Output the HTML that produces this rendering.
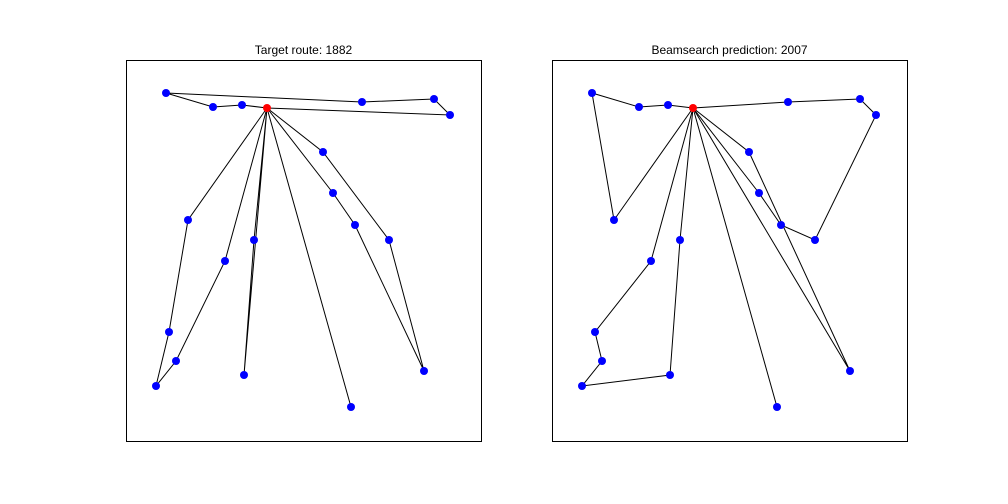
<!DOCTYPE html>
<html><head><meta charset="utf-8"><style>
body{margin:0;background:#fff}
svg{display:block;font-family:"Liberation Sans","DejaVu Sans",sans-serif}
</style></head><body>
<svg id="fig" width="1008" height="504" xmlns="http://www.w3.org/2000/svg"></svg>
<script>
const nodeX=[141,40,87,116,236,308,324,197,207,62,229,263,128,99,43,50,30,118,298,225];
const nodeY=[48,33,47,45,42,39,55,92,133,160,165,180,180,201,272,301,326,315,311,347];
const targetRoutes=[[0,3,2,1,4,5,6,0],[0,7,11,18,10,8,0],[0,19,0],[0,12,17,0],[0,13,15,16,14,9,0]];
const predRoutes=[[0,3,2,1,9,0],[0,4,5,6,11,10,8,0],[0,7,18,0],[0,19,0],[0,12,17,16,15,14,13,0]];
const titles=["Target route: 1882","Beamsearch prediction: 2007"];
const NS="http://www.w3.org/2000/svg";
const svg=document.getElementById('fig');
function mk(t,a,p){const e=document.createElementNS(NS,t);for(const k in a)e.setAttribute(k,a[k]);(p||svg).appendChild(e);return e;}
const panels=[{x0:126,routes:targetRoutes,name:'target'},{x0:552,routes:predRoutes,name:'prediction'}];
panels.forEach((p,pi)=>{
  const g=mk('g',{});
  
  
  const sx=v=>p.x0+v, sy=v=>60+v;
  const box=mk('rect',{x:p.x0+0.5,y:60.5,width:355,height:381,fill:'none',stroke:'#000','stroke-width':1},g);
  
  
  const t=mk('text',{x:p.x0+177.5,y:54,'text-anchor':'middle','font-size':12,fill:'#000'},g);
  t.textContent=titles[pi];
  
  
  p.routes.forEach((r,ri)=>{
    const pts=r.map(i=>sx(nodeX[i])+','+sy(nodeY[i])).join(' ');
    const l=mk('polyline',{points:pts,fill:'none',stroke:'#000','stroke-width':1},g);
    
    
  });
  nodeX.forEach((x,i)=>{
    const c=mk('circle',{cx:sx(x),cy:sy(nodeY[i]),r:4,fill:i===0?'#ff0000':'#0000ff'},g);
    
    
  });
});
</script>
</body></html>
